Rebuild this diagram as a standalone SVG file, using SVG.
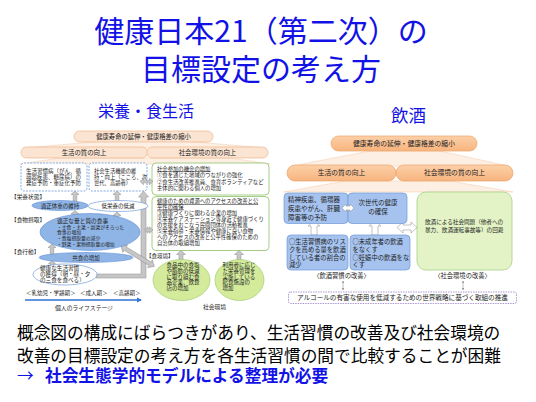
<svg xmlns="http://www.w3.org/2000/svg" width="536" height="402" viewBox="0 0 536 402">
<defs>
<linearGradient id="og" x1="0" y1="0" x2="0" y2="1"><stop offset="0" stop-color="#fcd0a8"/><stop offset="1" stop-color="#f8b47e"/></linearGradient>
<marker id="ah" viewBox="0 0 6 6" refX="5" refY="3" markerWidth="4" markerHeight="4" orient="auto-start-reverse"><path d="M0,0 L6,3 L0,6 Z" fill="#999"/></marker>
<marker id="ab" viewBox="0 0 6 6" refX="5" refY="3" markerWidth="4" markerHeight="4" orient="auto"><path d="M0,0 L6,3 L0,6 Z" fill="#2e75d6"/></marker>
</defs>
<style>
text{font-family:"Noto Sans CJK JP","Noto Sans CJK SC",sans-serif;fill:#222}
.title{font-size:30px;fill:#1212e6;text-anchor:middle}
.m{text-anchor:middle}
.t{font-size:5.5px}
.s{font-size:5.35px}
.e{font-size:5.5px}
.u{text-decoration:underline}
.pillL{fill:#fbe4d2;stroke:#efb48b;stroke-width:0.7}
.pillR{fill:url(#og);stroke:#eaa36c;stroke-width:0.7}
.fan{fill:#fdefe4;stroke:#f5c9a6;stroke-width:0.5}
.dash{fill:#fff;stroke:#4f86d6;stroke-width:0.7;stroke-dasharray:2 1.2}
.gbox{fill:#fff;stroke:#8ec26a;stroke-width:0.8}
.bell{fill:#8fb4e6;stroke:#5b8cd3;stroke-width:0.6}
.well{fill:#fff;stroke:#5b8cd3;stroke-width:0.6}
.gell{fill:#d4eb9c;stroke:#97c864;stroke-width:0.6}
.garr{fill:#c6c6c6;stroke:#8e8e8e;stroke-width:0.5}
.warr{fill:#fff;stroke:#9a9a9a;stroke-width:0.6}
.bbox{fill:#a6c3f0;stroke:#6f98d6;stroke-width:0.7}
.ggbox{fill:#e3f3c5;stroke:#a6cf86;stroke-width:0.8}
.body{font-size:16.7px;fill:#000}
</style>
<rect width="536" height="402" fill="#fff"/>

<g id="title">
<text class="title" x="261" y="41.5">健康日本21（第二次）の</text>
<text class="title" x="261" y="80">目標設定の考え方</text>
</g>
<text x="98" y="117" style="font-size:16px;fill:#1212e6">栄養・食生活</text>
<text x="391" y="122" style="font-size:17.5px;fill:#1212e6">飲酒</text>

<!-- LEFT DIAGRAM -->
<polygon class="fan" points="100,141.5 190,141.5 266,148 23,148"/>
<polygon class="fan" points="60,158 230,158 270,164 20,164"/>
<g id="L-top"><rect class="pillL" x="74" y="131" width="139" height="11" rx="5.5"/><text class="m" x="143.5" y="138.8" style="font-size:6.3px">健康寿命の延伸・健康格差の縮小</text></g>
<g id="L-qol"><rect class="pillL" x="21" y="147" width="126.5" height="11" rx="5.5"/><text class="m" x="84" y="154.8" style="font-size:6.4px">生活の質の向上</text></g>
<g id="L-env"><rect class="pillL" x="147" y="147" width="121" height="11" rx="5.5"/><text class="m" x="207.5" y="154.8" style="font-size:6.4px">社会環境の質の向上</text></g>

<g id="L-dash1"><rect class="dash" x="21" y="163" width="66" height="28" rx="3"/>
<text class="t" x="26" y="173.3">生活習慣病（がん、循<tspan x="26" dy="5.7">環器疾患、糖尿病）の</tspan><tspan x="26" dy="5.7">発症予防・重症化予防</tspan></text></g>
<g id="L-dash2"><rect class="dash" x="89" y="163" width="58" height="28" rx="3"/>
<text x="94" y="173.3" style="font-size:5.3px">社会生活機能の維<tspan x="94" dy="5.7">持・向上（こころ、次</tspan><tspan x="94" dy="5.7">世代、高齢者）</tspan></text></g>

<g id="L-green1"><rect class="gbox" x="152" y="163" width="117" height="32" rx="4"/>
<text class="s" x="157" y="170.5"><tspan class="u">社会参加の機会の増加</tspan><tspan x="157" dy="6.5">①食を通じた地域のつながりの強化</tspan><tspan x="157" dy="6.5">②食生活改善推進員、食育ボランティアなど</tspan><tspan x="157" dy="6.5">主体的に関わる個人の増加</tspan></text></g>
<g id="L-green2"><rect class="gbox" x="152" y="196.5" width="117" height="54" rx="4"/>
<text class="s" x="157" y="203"><tspan class="u">健康のための資源へのアクセスの改善と公</tspan><tspan class="u" x="157" dy="5.7">平性の確保</tspan><tspan x="157" dy="6.3">③健康づくりに関わる企業の増加</tspan><tspan x="157" dy="6">④栄養ケアステーション等身近で健康づくり</tspan><tspan x="157" dy="6">の支援をおこなう民間団体の活動推進</tspan><tspan x="157" dy="6">⑤栄養指導・栄養情報や健康に良い食物</tspan><tspan x="157" dy="6">へのアクセスの改善と公平性確保のための</tspan><tspan x="157" dy="6">自治体の取組増加</tspan></text></g>

<text x="11" y="198.5" style="font-size:5.7px">【栄養状態】</text>
<text x="11" y="221.5" style="font-size:5.7px">【食物摂取】</text>
<text x="11" y="253.5" style="font-size:5.7px">【食行動】</text>
<text x="146" y="258.2" style="font-size:5.5px">【食環境】</text>

<g id="connectors">
<path class="garr" d="M75,191 L79,194.5 L76.8,194.5 L76.8,201 L73.2,201 L73.2,194.5 L71,194.5 Z"/>
<path class="garr" d="M117,191 L121,194.5 L118.8,194.5 L118.8,202 L115.2,202 L115.2,194.5 L113,194.5 Z"/>
<path class="garr" d="M75,210.5 L79,214 L76.8,214 L76.8,217 L73.2,217 L73.2,214 L71,214 Z"/>
<path class="garr" d="M117,212 L121,215.5 L118.8,215.5 L118.8,218 L115.2,218 L115.2,215.5 L113,215.5 Z"/>
<path class="garr" d="M52,244 L56,247.5 L53.8,247.5 L53.8,254.5 L50.2,254.5 L50.2,247.5 L48,247.5 Z"/>
<path class="garr" d="M52,260.5 L55.5,263.5 L53.8,263.5 L53.8,266 L50.2,266 L50.2,263.5 L48.5,263.5 Z"/>
<path class="garr" d="M96,274 L141,274 L141,197 L138.5,197 L143.5,191 L148.5,197 L146,197 L146,278 L96,278 Z"/>
<path class="garr" d="M140,181.5 L143.5,178.3 L143.5,180.2 L149.5,180.2 L149.5,178.3 L153,181.5 L149.5,184.7 L149.5,182.8 L143.5,182.8 L143.5,184.7 Z"/>
<path class="garr" d="M144.5,230 L148,226.8 L148,228.7 L149.5,228.7 L149.5,226.8 L153,230 L149.5,233.2 L149.5,231.3 L148,231.3 L148,233.2 Z"/>
<path class="garr" transform="translate(121,246) rotate(31.5)" d="M0,0 L5,-4.5 L5,-2 L34,-2 L34,-4.5 L39,0 L34,4.5 L34,2 L5,2 L5,4.5 Z"/>
<path class="garr" d="M181,250.5 L185.5,254.5 L183,254.5 L183,261 L179,261 L179,254.5 L176.5,254.5 Z"/>
<path class="garr" d="M239,250.5 L243.5,254.5 L241,254.5 L241,261 L237,261 L237,254.5 L234.5,254.5 Z"/>
<line x1="25" y1="300" x2="141" y2="300" stroke="#2e75d6" stroke-width="1.3" marker-end="url(#ab)"/>
<path class="warr" d="M314,221 L320,226 L317,226 L317,235 L311,235 L311,226 L308,226 Z"/>
<path class="warr" d="M375,221 L381,226 L378,226 L378,235 L372,235 L372,226 L369,226 Z"/>
<path class="warr" d="M397,227.5 L403,222 L403,225 L411,225 L411,222 L417,227.5 L411,233 L411,230 L403,230 L403,233 Z"/>
<line x1="343" y1="281" x2="343" y2="290" stroke="#999" stroke-width="0.6" marker-start="url(#ah)" marker-end="url(#ah)"/>
<line x1="463" y1="281" x2="463" y2="290" stroke="#999" stroke-width="0.6" marker-start="url(#ah)" marker-end="url(#ah)"/>
</g>

<g id="L-weight"><ellipse class="bell" cx="60" cy="205.5" rx="28" ry="5"/><text class="t m" x="60" y="207.6">適正体重の維持</text></g>
<g id="L-under"><ellipse class="well" cx="118" cy="206" rx="30" ry="5.5"/><text class="t m" x="118" y="208.1">低栄養の低減</text></g>
<g id="L-meal"><ellipse class="bell" cx="90" cy="232" rx="50" ry="18.5"/>
<text x="57" y="222.8" style="font-size:5.7px">適正な量と質の食事<tspan x="57" dy="6.4" style="font-size:4.8px">・主食・主菜・副菜がそろった</tspan><tspan x="57" dy="5" style="font-size:4.8px">食事の増加</tspan><tspan x="57" dy="5.8" style="font-size:4.8px">・食塩摂取量の減少</tspan><tspan x="57" dy="5.6" style="font-size:4.8px">・野菜・果物摂取量の増加</tspan></text></g>
<g id="L-kyoshoku"><ellipse class="bell" cx="86" cy="257.5" rx="47" ry="5"/><text class="t m" x="86" y="259.6">共食の増加</text></g>
<g id="L-habit"><ellipse class="well" cx="65" cy="274.5" rx="32" ry="10.5"/>
<text x="40" y="269.5" style="font-size:5.6px">健康な生活習慣<tspan x="40" dy="6">の獲得（朝・昼・夕</tspan><tspan x="40" dy="6">の三食を食べる）</tspan></text></g>

<g id="L-food"><ellipse class="gell" cx="181.5" cy="280" rx="28.5" ry="20.5"/>
<text class="e" x="166.5" y="267.3">食品中の食塩<tspan x="166.5" dy="5.7">や脂肪の低減</tspan><tspan x="166.5" dy="5.7">に取り組む食</tspan><tspan x="166.5" dy="5.7">品企業、飲食</tspan><tspan x="166.5" dy="5.7">店の増加</tspan></text></g>
<g id="L-kyushoku"><ellipse class="gell" cx="239.5" cy="280" rx="24.5" ry="20.5"/>
<text class="e" x="222.5" y="267.3">利用者に応じ<tspan x="222.5" dy="5.7">た栄養管理を</tspan><tspan x="222.5" dy="5.7">実施している</tspan><tspan x="222.5" dy="5.7">給食施設の</tspan><tspan x="222.5" dy="5.7">増加</tspan></text></g>

<text class="t" x="26" y="295.3">＜乳幼児・学齢期＞</text>
<text class="t" x="80" y="295.3">＜成人期＞</text>
<text class="t" x="113" y="295.3">＜高齢期＞</text>
<text class="m" x="84" y="309.5" style="font-size:5.8px">個人のライフステージ</text>
<text class="m" x="214.5" y="309" style="font-size:5.8px">社会環境</text>

<!-- RIGHT DIAGRAM -->
<polygon class="fan" points="370,151 440,151 508,166 292,166"/>
<polygon class="fan" points="345,181 450,181 513,192 284,192"/>
<g id="R-top"><rect class="pillR" x="331" y="136" width="146" height="15" rx="7.5"/><text class="m" x="404" y="146" style="font-size:6.8px">健康寿命の延伸・健康格差の縮小</text></g>
<g id="R-qol"><rect class="pillR" x="287" y="165" width="109" height="16" rx="8"/><text class="m" x="341.5" y="175.4" style="font-size:6.8px">生活の質の向上</text></g>
<g id="R-env"><rect class="pillR" x="396" y="165" width="117" height="16" rx="8"/><text class="m" x="454.5" y="175.4" style="font-size:6.8px">社会環境の質の向上</text></g>

<g id="R-disease"><rect class="bbox" x="284" y="193" width="64" height="30.5" rx="4"/>
<text x="288" y="202.4" style="font-size:6.5px">精神疾患、循環器<tspan x="288" dy="8.9">疾患やがん、肝臓</tspan><tspan x="288" dy="9">障害等の予防</tspan></text></g>
<g id="R-nextgen"><rect class="bbox" x="348" y="193" width="59" height="30.5" rx="4"/>
<text class="m" x="378" y="204.5" style="font-size:6.5px">次世代の健康<tspan x="378" dy="9">の確保</tspan></text></g>
<path class="warr" d="M342,208 L346,204 L346,206 L350,206 L350,204 L354,208 L350,212 L350,210 L346,210 L346,212 Z"/>
<g id="R-social"><rect class="ggbox" x="417" y="192" width="95" height="78" rx="9"/>
<text x="425" y="224.3" style="font-size:5.6px">飲酒による社会問題（他者への<tspan x="425" dy="7.7">暴力、飲酒運転事故等）の回避</tspan></text></g>
<g id="R-risk"><rect class="bbox" x="287" y="235" width="61" height="35" rx="4"/>
<text x="289" y="244" style="font-size:6.3px">○生活習慣病のリス<tspan x="289" dy="7.8">クを高める量を飲酒</tspan><tspan x="289" dy="7.8">している者の割合の</tspan><tspan x="289" dy="7.8">減少</tspan></text></g>
<g id="R-minor"><rect class="bbox" x="350" y="235" width="60" height="35" rx="4"/>
<text x="352.5" y="244" style="font-size:6.3px">○未成年者の飲酒<tspan x="352.5" dy="7.8">をなくす</tspan><tspan x="352.5" dy="7.8">○妊娠中の飲酒をな</tspan><tspan x="352.5" dy="7.8">くす</tspan></text></g>
<text class="m" x="341.5" y="278" style="font-size:6.3px">〈飲酒習慣の改善〉</text>
<text class="m" x="462.5" y="278" style="font-size:6.3px">〈社会環境の改善〉</text>
<g id="R-global"><rect x="288.5" y="292" width="228" height="11.5" rx="2" fill="#fff" stroke="#8a6bbd" stroke-width="0.7" stroke-dasharray="1.5 1"/>
<text class="m" x="402.5" y="300.2" style="font-size:6.6px">アルコールの有害な使用を低減するための世界戦略に基づく取組の推進</text></g>

<!-- BOTTOM TEXT -->
<text class="body" x="17" y="339">概念図の構成にばらつきがあり、生活習慣の改善及び社会環境の</text>
<text class="body" x="17" y="361.5">改善の目標設定の考え方を各生活習慣の間で比較することが困難</text>
<text class="body" x="17" y="382" style="fill:#1212e6">→<tspan x="45" style="font-weight:bold">社会生態学的モデルによる整理が必要</tspan></text>
</svg>
